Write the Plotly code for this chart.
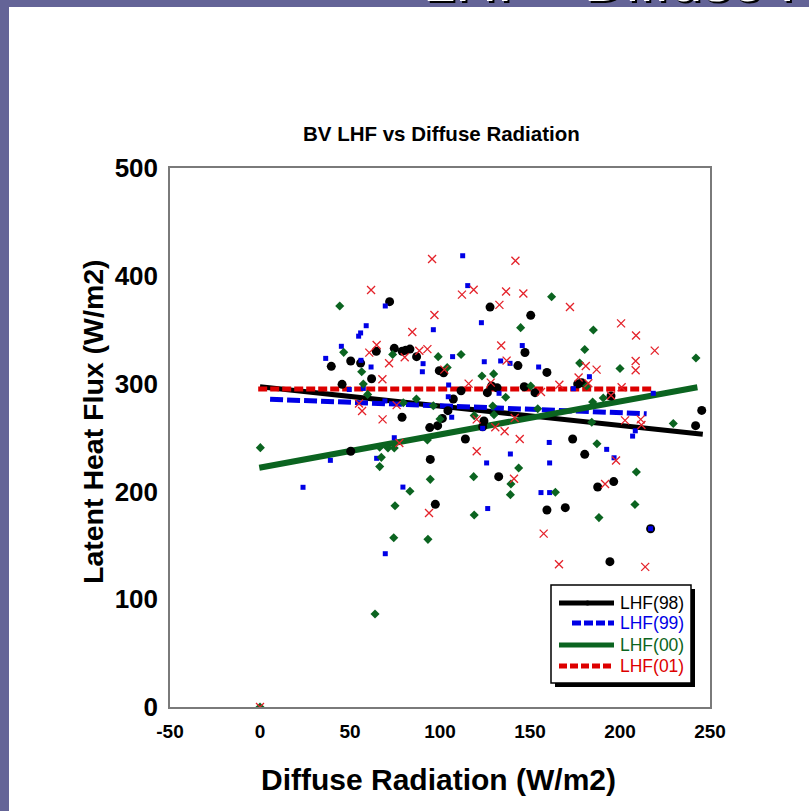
import plotly.graph_objects as go

# ---------------- data ----------------
x98 = [72, 39.6, 50.4, 55.9, 62, 64.6, 74.6, 79, 81, 83.3, 87, 99.6, 102, 127.8, 150.4, 147.2, 143.3, 159.4,
       45.6, 104.4, 78.9, 101.3, 98.7, 94.3, 50.4, 94.6, 97.4, 128.7, 131.7, 126.3, 111.7, 146.8, 152.8, 176.5,
       178.7, 195, 107.4, 124.4, 123.7, 114.1, 173.7, 242, 245.4, 180.4, 132.6, 187.6, 196.5, 159.4, 169.6, 194.4, 217]
y98 = [376, 316, 321, 319, 304.5, 330, 332.7, 330, 331, 332, 325, 312, 310, 371, 363.3, 328.8, 316.7, 310.4,
       299.3, 274.9, 268.8, 267.7, 261, 259.2, 237.2, 229.7, 188, 297.8, 296.2, 291.6, 293.4, 297.1, 291.6, 299.6,
       300.9, 288.5, 285.7, 265.3, 260, 248.6, 248.6, 261, 275.1, 234.4, 213.7, 204.1, 209.1, 182.7, 184.9, 134.8, 165.4]

x99 = [69.6, 96.3, 59, 55.9, 54.8, 45.2, 36.5, 56.1, 61.7, 90.6, 90.2, 112.6, 115.4, 123, 145.7, 107, 124.6, 133.7,
       138.9, 154.8, 183, 57.4, 104.8, 104.6, 74.6, 64.8, 39.1, 23.9, 79.4, 69.6, 132.8, 174.1, 218.5, 106.5, 123.7,
       160.7, 208.5, 207, 139.1, 192.6, 196.7, 125.9, 160.9, 156.1, 160.9, 126.5, 217, 49.6, 69.4]
y99 = [372, 350, 353.7, 347, 344, 334.6, 323.4, 321.6, 315.4, 318.5, 311, 418.6, 390.9, 356.5, 335.3, 325, 320.3, 321,
       318.8, 315.4, 306.4, 295.5, 298.7, 287.8, 249.8, 230.7, 228.8, 203.8, 204, 142.2, 291, 295.3, 291, 268.8, 258.5,
       245.4, 256.2, 251.3, 234.7, 239, 231.2, 226.4, 226.4, 198.9, 198.9, 184.1, 165.4, 294.5, 283.9]

x00 = [44.3, 46.5, 56.5, 73.7, 99, 104, 162, 144.8, 185.2, 180.4, 242.2, 111.7, 177.6, 200, 123.3, 129.8, 57.4, 59.8,
       79.6, 86.9, 96.3, 100, 93, 66.5, 71.1, 74.6, 67.4, 66.5, 0.2, 94.6, 83.3, 75, 74.3, 93.3, 63.9, 136.5, 150.4,
       181.5, 190.7, 184.8, 119, 129.3, 130, 154.3, 184.3, 229.6, 187.2, 143.7, 209.1, 118.7, 139.4, 139.1, 164.1,
       208.3, 119, 188.3, 0]
y00 = [372, 329, 311, 327, 325, 315, 380.6, 351.9, 349.7, 331.7, 323.7, 327, 319, 314, 307, 309, 299.6, 290,
       282.3, 285.7, 279.5, 267.2, 247.7, 241, 240.3, 240.3, 231.6, 223, 240.6, 211.2, 200.1, 186.7, 157, 155.5, 86.3,
       287.4, 297.8, 297.8, 286.6, 283, 270.3, 279.2, 271.2, 276.7, 264.1, 263, 244.2, 221.7, 218, 213.7, 206.9, 197,
       199.2, 187.8, 178.1, 175.7, 0]

x01 = [95.6, 61.7, 96.9, 84.6, 64.8, 60.7, 80.4, 71.7, 68, 88.5, 93, 102.4, 141.9, 112.2, 118.7, 136.7, 146.3, 133,
       172.2, 200.6, 208.9, 134, 219.3, 137, 181, 187, 208.7, 208.7, 177, 55, 56.7, 75.9, 68.1, 77.4, 93.9, 115.9,
       128.2, 156.1, 166.3, 182.4, 200.9, 195, 120.4, 130.7, 135.9, 141.5, 144.3, 202.8, 211.5, 211.9, 120.4, 197.8,
       141.1, 191.7, 157.6, 166.1, 214, 0]
y01 = [415.6, 386.8, 363.6, 347.9, 335.8, 328.7, 324.4, 318.8, 304, 330.5, 332, 313, 414, 382.5, 387, 385.4, 383.6, 373,
       371, 355.9, 344.6, 335.3, 330.6, 321.3, 316.3, 313, 321, 312.4, 305.6, 281.6, 274.6, 280, 266.8, 244.9, 180,
       300, 300.9, 292.2, 299, 300.3, 296.6, 289, 266.8, 259.5, 255.8, 268.1, 248.6, 265.9, 266.8, 261.6, 237.2,
       228.6, 211.8, 206.9, 160.8, 132.4, 130, 0]

# linear trend lines (end points)
trend98_x = [0, 246]
trend98_y = [297, 253]
trend99_x = [5.6, 214.8]
trend99_y = [285.5, 272]
trend00_x = [-0.4, 243]
trend00_y = [222, 296.6]
trend01_x = [-1, 217.8]
trend01_y = [295, 295]

series_names = ["LHF(98)", "LHF(99)", "LHF(00)", "LHF(01)"]
x_ticks = [-50, 0, 50, 100, 150, 200, 250]
y_ticks = [0, 100, 200, 300, 400, 500]

chart_title = "BV LHF vs Diffuse Radiation"
x_title = "Diffuse Radiation (W/m2)"
y_title = "Latent Heat Flux (W/m2)"
slide_title = "LHF - Diffuse Radiation"

# ---------------- style ----------------
FONT = "Arial, 'Liberation Sans', sans-serif"
C_BLACK = "#000000"
C_BLUE = "#0000e6"
C_GREEN = "#0b6420"
C_RED = "#e4222a"
C_RED_LINE = "#dd0000"

W, H = 809, 811
ML, MR, MT, MB = 170, 99, 168, 104
PW = W - ML - MR
PH = H - MT - MB


def px(x):
    return (x - ML) / PW


def py(y):
    return (H - MB - y) / PH


fig = go.Figure()

# trend lines
fig.add_trace(go.Scatter(x=trend98_x, y=trend98_y, mode="lines",
                         line=dict(color=C_BLACK, width=5), showlegend=False, hoverinfo="skip"))
fig.add_trace(go.Scatter(x=trend99_x, y=trend99_y, mode="lines",
                         line=dict(color=C_BLUE, width=5, dash="13px,4px"), showlegend=False, hoverinfo="skip"))
fig.add_trace(go.Scatter(x=trend00_x, y=trend00_y, mode="lines",
                         line=dict(color=C_GREEN, width=6), showlegend=False, hoverinfo="skip"))
fig.add_trace(go.Scatter(x=trend01_x, y=trend01_y, mode="lines",
                         line=dict(color=C_RED_LINE, width=5, dash="9px,3px"), showlegend=False, hoverinfo="skip"))

# scatter points
fig.add_trace(go.Scatter(x=x98, y=y98, mode="markers", name=series_names[0], showlegend=False,
                         marker=dict(symbol="circle", size=9, color=C_BLACK)))
fig.add_trace(go.Scatter(x=x99, y=y99, mode="markers", name=series_names[1], showlegend=False,
                         marker=dict(symbol="square", size=5, color=C_BLUE)))
fig.add_trace(go.Scatter(x=x00, y=y00, mode="markers", name=series_names[2], showlegend=False,
                         marker=dict(symbol="diamond", size=7, color=C_GREEN)))
fig.add_trace(go.Scatter(x=x01, y=y01, mode="markers", name=series_names[3], showlegend=False,
                         marker=dict(symbol="x-thin", size=8, color=C_RED, line=dict(color=C_RED, width=1.3))))

shapes = []
annotations = []

# slide border (purple frame on left / top)
PURPLE = "#646497"
shapes.append(dict(type="rect", xref="paper", yref="paper", x0=px(0), x1=px(9), y0=py(H), y1=py(0),
                   fillcolor=PURPLE, line=dict(width=0), layer="below"))
shapes.append(dict(type="rect", xref="paper", yref="paper", x0=px(0), x1=px(W), y0=py(7), y1=py(0),
                   fillcolor=PURPLE, line=dict(width=0), layer="below"))

# slide title (mostly cut off at the top): black shadow then white text
annotations.append(dict(text=slide_title, xref="paper", yref="paper", x=px(423), y=py(17),
                        xanchor="left", yanchor="bottom", showarrow=False,
                        font=dict(family=FONT, size=58, color="black")))
annotations.append(dict(text=slide_title, xref="paper", yref="paper", x=px(421), y=py(15),
                        xanchor="left", yanchor="bottom", showarrow=False,
                        font=dict(family=FONT, size=58, color="white")))

# chart title and axis titles
annotations.append(dict(text="<b>" + chart_title + "</b>", xref="paper", yref="paper", x=px(441), y=py(133),
                        xanchor="center", yanchor="middle", showarrow=False,
                        font=dict(family=FONT, size=20.5, color="black")))
annotations.append(dict(text="<b>" + x_title + "</b>", xref="paper", yref="paper", x=px(438), y=py(779),
                        xanchor="center", yanchor="middle", showarrow=False,
                        font=dict(family=FONT, size=30, color="black")))
annotations.append(dict(text="<b>" + y_title + "</b>", xref="paper", yref="paper", x=px(93), y=py(422),
                        xanchor="center", yanchor="middle", showarrow=False, textangle=-90,
                        font=dict(family=FONT, size=28.5, color="black")))

# legend (drawn manually)
LX0, LX1, LY0, LY1 = 551, 691, 585, 683
shapes.append(dict(type="rect", xref="paper", yref="paper", x0=px(LX0 + 4), x1=px(LX1 + 4),
                   y0=py(LY1 + 4), y1=py(LY0 + 4), fillcolor="black", line=dict(width=0)))
shapes.append(dict(type="rect", xref="paper", yref="paper", x0=px(LX0), x1=px(LX1),
                   y0=py(LY1), y1=py(LY0), fillcolor="white", line=dict(color="black", width=1.5)))

leg_rows = [
    (series_names[0], C_BLACK, 603, 559, None, 5),
    (series_names[1], C_BLUE, 623, 572, "9px,3px", 5),
    (series_names[2], C_GREEN, 645, 559, None, 5),
    (series_names[3], C_RED_LINE, 666, 559, "8px,3px", 5),
]
for name, col, yy, xs, dash, w in leg_rows:
    ln = dict(color=col, width=w)
    if dash:
        ln["dash"] = dash
    shapes.append(dict(type="line", xref="paper", yref="paper", x0=px(xs), x1=px(614),
                       y0=py(yy), y1=py(yy), line=ln))
    annotations.append(dict(text=name, xref="paper", yref="paper", x=px(618), y=py(yy),
                            xanchor="left", yanchor="middle", showarrow=False,
                            font=dict(family=FONT, size=17.5, color=col)))
# small marker in the black legend line
shapes.append(dict(type="circle", xref="paper", yref="paper", x0=px(585), x1=px(590),
                   y0=py(605.5), y1=py(600.5), fillcolor=C_BLACK, line=dict(width=0)))

fig.update_layout(
    width=W, height=H,
    margin=dict(l=ML, r=MR, t=MT, b=MB, pad=0),
    paper_bgcolor="white", plot_bgcolor="white",
    showlegend=False,
    shapes=shapes, annotations=annotations,
    xaxis=dict(range=[-50, 250], tickvals=x_ticks, ticktext=[str(v) for v in x_ticks],
               showgrid=False, zeroline=False, showline=True, linecolor="#7a7a7a", linewidth=1.5, mirror=True,
               ticks="", ticklabelstandoff=6,
               tickfont=dict(family=FONT, size=19, color="black", weight="bold")),
    yaxis=dict(range=[0, 500], tickvals=y_ticks, ticktext=[str(v) for v in y_ticks],
               showgrid=False, zeroline=False, showline=True, linecolor="#7a7a7a", linewidth=1.5, mirror=True,
               ticks="", ticklabelstandoff=5,
               tickfont=dict(family=FONT, size=26, color="black", weight="bold")),
)

fig.write_html("out.html", config={"displayModeBar": False},
               post_script="document.body.style.margin='0px';")
